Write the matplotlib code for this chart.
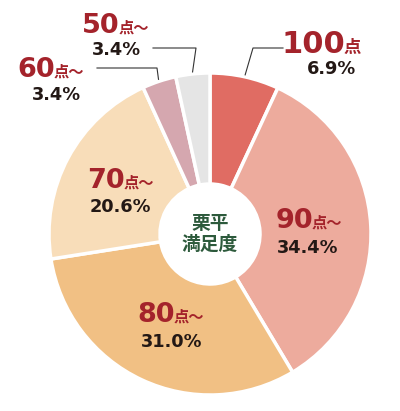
import numpy as np
import matplotlib
matplotlib.use("Agg")
import matplotlib.pyplot as plt

# data
grades = ['100', '90', '80', '70', '60', '50']
suffixes = ['点', '点〜', '点〜', '点〜', '点〜', '点〜']
shares = [6.9, 34.4, 31.0, 20.6, 3.4, 3.4]
colors = ['#e06c63', '#edab9d', '#f1c084', '#f8ddb9', '#d5a7af', '#e5e5e5']
center_text = '栗平\n満足度'

RED = '#a4232b'
DARK = '#231815'
GREEN = '#2d5a3c'
CJK = ['Noto Sans CJK JP', 'DejaVu Sans']

# layout, pixel coords (y down)
cx, cy, R = 210, 234, 161
num_pos = [(345, 53), (313, 228), (175, 322), (125, 188), (55, 77), (120, 33)]
pct_pos = [(331, 74), (308, 253), (172, 347), (120, 212), (56, 100), (116, 55)]
num_size = [22, 19.5, 19.5, 19.5, 19.5, 19.5]
suf_size = [12.5, 11, 11, 11, 11, 11]
# elbow + end of leader lines for the thin slices outside the ring
leaders = {0: [(253, 48), (283, 48)], 4: [(157, 68), (97, 68)], 5: [(196, 48), (153, 48)]}

fig = plt.figure(figsize=(4, 4.11), dpi=100)
ax = fig.add_axes([0, 0, 1, 1])

# y axis is inverted below, so counterclock=True / startangle=-90
# gives clockwise from 12 o'clock on screen
ax.pie(shares, colors=colors, startangle=-90, counterclock=True,
       radius=R, center=(cx, cy),
       wedgeprops=dict(width=R - 50, edgecolor='white', linewidth=2.5))
ax.set_xlim(0, 400)
ax.set_ylim(411, 0)
ax.set_aspect('equal')
ax.axis('off')

fr = np.array(shares) / sum(shares)
mid = np.cumsum(fr) - fr / 2
for i in range(len(grades)):
    x, y = num_pos[i]
    ax.text(x, y, grades[i], ha='right', va='baseline', color=RED,
            fontsize=num_size[i], fontweight='bold', family='DejaVu Sans')
    ax.text(x - 1, y, suffixes[i], ha='left', va='baseline', color=RED,
            fontsize=suf_size[i], fontweight='bold', family=CJK)
    px, py = pct_pos[i]
    ax.text(px, py, f'{shares[i]:.1f}%', ha='center', va='baseline', color=DARK,
            fontsize=12.8, fontweight='bold', family='DejaVu Sans')
    if i in leaders:
        a = mid[i] * 2 * np.pi
        sx = cx + (R + 2) * np.sin(a)
        sy = cy - (R + 2) * np.cos(a)
        pts = [(sx, sy)] + leaders[i]
        ax.plot([p[0] for p in pts], [p[1] for p in pts], color='#333333', lw=0.8)

ax.text(cx, cy, center_text, ha='center', va='center', color=GREEN,
        fontsize=13.5, fontweight='bold', family=CJK, linespacing=1.1)

fig.savefig('out.png', dpi=100)
